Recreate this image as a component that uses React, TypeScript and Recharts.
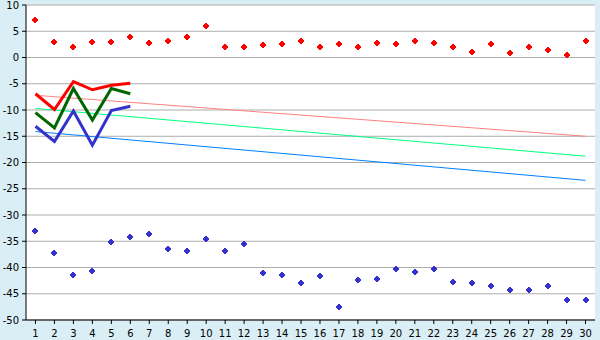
import React from "react";
import { ComposedChart, Line, XAxis, YAxis, CartesianGrid } from "recharts";

const categories = Array.from({ length: 30 }, (_, i) => String(i + 1));

const redPoints = [7.1, 2.9, 2.0, 2.9, 2.9, 3.9, 2.7, 3.1, 3.9, 6.0, 2.0, 2.0, 2.35, 2.5, 3.1, 2.0, 2.5, 2.0, 2.7, 2.5, 3.1, 2.7, 2.0, 1.0, 2.5, 0.8, 2.0, 1.4, 0.45, 3.1];
const bluePoints = [-33.1, -37.3, -41.4, -40.6, -35.2, -34.2, -33.6, -36.5, -36.9, -34.6, -36.9, -35.6, -41.1, -41.4, -43.0, -41.6, -47.5, -42.4, -42.2, -40.2, -40.8, -40.2, -42.8, -43.0, -43.6, -44.2, -44.2, -43.6, -46.1, -46.1];

const redThick = [-6.9, -9.9, -4.6, -6.15, -5.3, -4.9];
const greenThick = [-10.5, -13.4, -5.9, -11.9, -5.9, -6.9];
const blueThick = [-13.1, -16.0, -10.2, -16.7, -10.1, -9.3];

// trend lines: values read at first and last category
const redTrend = [-7.2, -15.0];
const greenTrend = [-9.7, -18.8];
const blueTrend = [-14.1, -23.4];

const yTicks = [10, 5, 0, -5, -10, -15, -20, -25, -30, -35, -40, -45, -50];

const data = categories.map((c, i) => ({
  cat: c,
  rp: redPoints[i],
  bp: bluePoints[i],
  rt: i < redThick.length ? redThick[i] : undefined,
  gt: i < greenThick.length ? greenThick[i] : undefined,
  bt: i < blueThick.length ? blueThick[i] : undefined,
  rtr: i === 0 ? redTrend[0] : i === categories.length - 1 ? redTrend[1] : undefined,
  gtr: i === 0 ? greenTrend[0] : i === categories.length - 1 ? greenTrend[1] : undefined,
  btr: i === 0 ? blueTrend[0] : i === categories.length - 1 ? blueTrend[1] : undefined,
}));

const makeDot = (color: string) => (props: any) => {
  const { cx, cy, index } = props;
  if (cx == null || cy == null) return <g key={index} />;
  return (
    <path
      key={index}
      d={`M${cx - 1},${cy - 3}h2v1h1v1h1v2h-1v1h-1v1h-2v-1h-1v-1h-1v-2h1v-1h1z`}
      fill={color}
      shapeRendering="crispEdges"
    />
  );
};

const tickStyle = { fill: "#000", fontSize: 10, fontFamily: "DejaVu Sans" };

export default function App() {
  return (
    <div style={{ position: "absolute", left: 0, top: 0, width: 600, height: 340, background: "#daeef5" }}>
      <ComposedChart width={600} height={340} data={data} margin={{ top: 5, right: 5, left: 0, bottom: 0 }}>
        <CartesianGrid vertical={false} stroke="#acacac" fill="#ffffff" yAxisId="l" />
        <XAxis
          dataKey="cat"
          scale="band"
          interval={0}
          height={20}
          tickSize={4}
          tickMargin={6}
          tick={tickStyle}
          axisLine={{ stroke: "#000" }}
          tickLine={{ stroke: "#000" }}
        />
        <YAxis
          yAxisId="l"
          domain={[-50, 10]}
          ticks={yTicks}
          width={26}
          tickSize={4}
          tickMargin={3}
          tick={tickStyle}
          axisLine={{ stroke: "#000" }}
          tickLine={{ stroke: "#000" }}
          interval={0}
        />
        <YAxis
          yAxisId="r"
          orientation="right"
          domain={[-50, 10]}
          width={0}
          tick={false}
          tickLine={false}
          axisLine={{ stroke: "#acacac" }}
        />
        <Line yAxisId="l" dataKey="rtr" stroke="#ff8080" strokeWidth={1} dot={false} activeDot={false} connectNulls isAnimationActive={false} />
        <Line yAxisId="l" dataKey="gtr" stroke="#00ff80" strokeWidth={1} dot={false} activeDot={false} connectNulls isAnimationActive={false} />
        <Line yAxisId="l" dataKey="btr" stroke="#0080ff" strokeWidth={1} dot={false} activeDot={false} connectNulls isAnimationActive={false} />
        <Line yAxisId="l" dataKey="rt" stroke="#ff0000" strokeWidth={3} dot={false} activeDot={false} isAnimationActive={false} />
        <Line yAxisId="l" dataKey="gt" stroke="#006600" strokeWidth={3} dot={false} activeDot={false} isAnimationActive={false} />
        <Line yAxisId="l" dataKey="bt" stroke="#3333cc" strokeWidth={3} dot={false} activeDot={false} isAnimationActive={false} />
        <Line yAxisId="l" dataKey="rp" stroke="none" dot={makeDot("#ff0000")} activeDot={false} isAnimationActive={false} />
        <Line yAxisId="l" dataKey="bp" stroke="none" dot={makeDot("#3333cc")} activeDot={false} isAnimationActive={false} />
      </ComposedChart>
    </div>
  );
}
